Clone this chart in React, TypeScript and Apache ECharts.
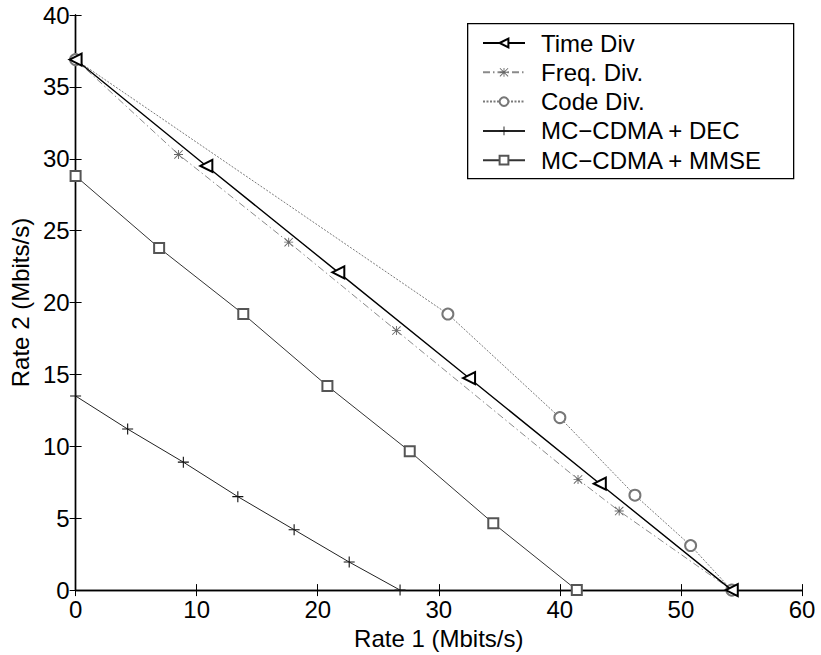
import React, { useEffect, useRef } from "react";
import * as echarts from "echarts";

const xTicks = [0, 10, 20, 30, 40, 50, 60];
const yTicks = [0, 5, 10, 15, 20, 25, 30, 35, 40];

const seriesNames = ["Time Div", "Freq. Div.", "Code Div.", "MC\u2212CDMA + DEC", "MC\u2212CDMA + MMSE"];

const timeX = [0, 10.8, 21.7, 32.5, 43.3, 54.2];
const timeY = [36.9, 29.5, 22.1, 14.75, 7.4, 0];

const freqX = [0, 8.5, 17.6, 26.5, 41.5, 44.9, 54.2];
const freqY = [36.9, 30.3, 24.2, 18.05, 7.7, 5.5, 0];

const codeX = [0, 30.75, 40.0, 46.2, 50.8, 54.2];
const codeY = [36.9, 19.2, 12.0, 6.6, 3.1, 0];

const decX = [0, 4.3, 8.9, 13.4, 18.05, 22.6, 26.8];
const decY = [13.5, 11.2, 8.9, 6.5, 4.2, 1.95, 0];

const mmseX = [0, 6.9, 13.85, 20.8, 27.6, 34.5, 41.4];
const mmseY = [28.8, 23.8, 19.2, 14.2, 9.65, 4.65, 0];

const zip = (xs: number[], ys: number[]) => xs.map((x, i) => [x, ys[i]]);

const PLUS = "path://M4.5,0H5.5V10H4.5Z M0,4.5H10V5.5H0Z";
const ASTER =
  "path://M4.5,0H5.5V10H4.5Z M0,4.5H10V5.5H0Z M0,0.7L0.7,0L10,9.3L9.3,10Z M9.3,0L10,0.7L0.7,10L0,9.3Z";

const FONT = "Liberation Sans, Arial, Helvetica, sans-serif";
const FS = 24;

export default function App() {
  const ref = useRef<HTMLDivElement>(null);
  useEffect(() => {
    if (!ref.current) return;
    const chart = echarts.init(ref.current, null, { renderer: "svg" });
    const axisCommon = {
      axisLine: { show: true, lineStyle: { color: "#000", width: 1.4 } },
      axisTick: { show: true, inside: true, length: 6, lineStyle: { color: "#000", width: 1 } },
      splitLine: { show: false },
    };
    chart.setOption({
      animation: false,
      backgroundColor: "#fff",
      textStyle: { fontFamily: FONT },
      grid: { left: 74, right: 19, top: 15, bottom: 64, containLabel: false },
      graphic: [
        {
          type: "rect",
          left: 467,
          top: 23,
          shape: { width: 326, height: 155 },
          style: { fill: "#fff", stroke: "#000", lineWidth: 1.3 },
          z: 90,
        },
      ],
      legend: {
        orient: "vertical",
        left: 482,
        top: 31,
        z: 100,
        data: seriesNames,
        padding: 0,
        itemWidth: 42,
        itemHeight: 11,
        itemGap: 5.3,
        textStyle: { fontSize: FS, color: "#000", fontFamily: FONT, lineHeight: 24, padding: [0, 0, 0, 11] },
      },
      xAxis: [
        {
          type: "value",
          min: 0,
          max: 60,
          interval: 10,
          name: "Rate 1 (Mbits/s)",
          nameLocation: "middle",
          nameGap: 26,
          nameTextStyle: { fontSize: FS, color: "#000", fontFamily: FONT },
          axisLabel: { fontSize: FS, color: "#000", margin: 7, fontFamily: FONT, formatter: (v: number) => (xTicks.includes(v) ? String(v) : "") },
          ...axisCommon,
        },
        {
          type: "value",
          position: "top",
          min: 0,
          max: 60,
          interval: 10,
          axisLabel: { show: false },
          ...axisCommon,
        },
      ],
      yAxis: [
        {
          type: "value",
          min: 0,
          max: 40,
          interval: 5,
          name: "Rate 2 (Mbits/s)",
          nameLocation: "middle",
          nameGap: 43,
          nameTextStyle: { fontSize: FS, color: "#000", fontFamily: FONT },
          axisLabel: { fontSize: FS, color: "#000", margin: 6, fontFamily: FONT, formatter: (v: number) => (yTicks.includes(v) ? String(v) : "") },
          ...axisCommon,
        },
        {
          type: "value",
          position: "right",
          min: 0,
          max: 40,
          interval: 5,
          axisLabel: { show: false },
          ...axisCommon,
        },
      ],
      series: [
        {
          name: seriesNames[0],
          type: "line",
          data: zip(timeX, timeY),
          symbol: "emptyTriangle",
          symbolRotate: 90,
          symbolSize: 12,
          lineStyle: { color: "#000", width: 1.4 },
          itemStyle: { color: "#000", borderWidth: 1.3 },
          z: 5,
        },
        {
          name: seriesNames[1],
          type: "line",
          data: zip(freqX, freqY),
          symbol: ASTER,
          symbolSize: 9,
          lineStyle: { color: "#8a8a8a", width: 1, type: [7, 3, 1.5, 3] },
          itemStyle: { color: "#666" },
          z: 3,
        },
        {
          name: seriesNames[2],
          type: "line",
          data: zip(codeX, codeY),
          symbol: "emptyCircle",
          symbolSize: 11,
          lineStyle: { color: "#7a7a7a", width: 1, type: [2, 1.5] },
          itemStyle: { color: "#777", borderWidth: 1 },
          z: 3,
        },
        {
          name: seriesNames[3],
          type: "line",
          data: zip(decX, decY),
          symbol: PLUS,
          symbolSize: 11,
          lineStyle: { color: "#222", width: 1 },
          itemStyle: { color: "#111" },
          z: 4,
        },
        {
          name: seriesNames[4],
          type: "line",
          data: zip(mmseX, mmseY),
          symbol: "emptyRect",
          symbolSize: 10,
          lineStyle: { color: "#333", width: 1 },
          itemStyle: { color: "#555", borderWidth: 1 },
          z: 4,
        },
      ],
    });
    return () => chart.dispose();
  }, []);
  return <div ref={ref} style={{ width: 821, height: 655, position: "absolute", left: 0, top: 0 }} />;
}
